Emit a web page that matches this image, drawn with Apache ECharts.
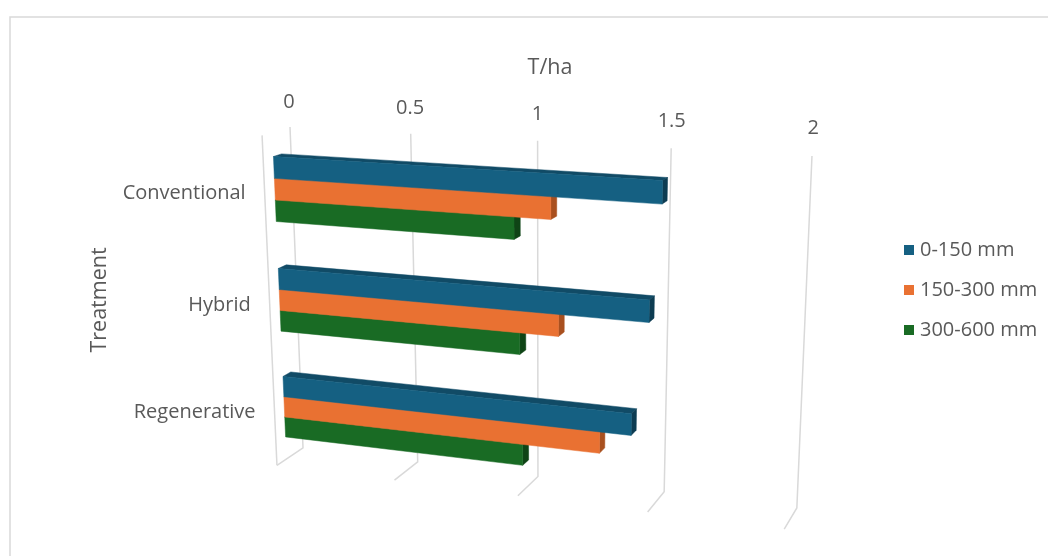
<!DOCTYPE html>
<html>
<head>
<meta charset="utf-8">
<script src="https://cdn.jsdelivr.net/npm/echarts@6/dist/echarts.min.js"></script>
<style>
  html, body { margin: 0; padding: 0; background: #ffffff; }
  #chart { width: 1048px; height: 556px; }
</style>
</head>
<body>
<div id="chart"></div>
<script>
// ---- data ----
const categories = ['Conventional', 'Hybrid', 'Regenerative'];
const seriesNames = ['0-150 mm', '150-300 mm', '300-600 mm'];
const depth0to150 = [1.51, 1.47, 1.41];
const depth150to300 = [1.10, 1.13, 1.29];
const depth300to600 = [0.96, 0.98, 0.99];
const valueTicks = [0, 0.5, 1, 1.5, 2];
const valueTitle = 'T/ha';
const categoryTitle = 'Treatment';

// ---- look ----
const FONT = '"Open Sans", "Noto Sans", sans-serif';
const TEXT_COLOR = '#595959';
const GRID_COLOR = '#d9d9d9';
const FACE_COLORS = [
  { front: '#156082', top: '#114b66', end: '#0d3c52' },
  { front: '#e97132', top: '#c65c24', end: '#a9501f' },
  { front: '#196b24', top: '#13531c', end: '#0f4416' }
];

// The flat grid is the 3D box seen head-on; its pixels are the box's world units.
const GRID = { left: 0, top: 0, width: 526, height: 339 };
const BOX_DEPTH = 58;          // floor depth, back wall at z = 0, front at -BOX_DEPTH
const BAR_Z = [-37, -20];      // front / back of every bar
const BAR_FRACTION = 0.192;    // bar thickness as a share of the category band
const TICK_LIFT = 25;          // value labels sit this far above the back wall

// Perspective camera (yaw around the vertical axis, pitch looking down)
const CAM = { yaw: 19.5, pitch: 16, dist: 1730, cx: 544, cy: 355, tx: -254, ty: -228 };
const DEG = Math.PI / 180;
const cYaw = Math.cos(CAM.yaw * DEG), sYaw = Math.sin(CAM.yaw * DEG);
const cPit = Math.cos(CAM.pitch * DEG), sPit = Math.sin(CAM.pitch * DEG);

function project(X, Y, Z) {
  const x1 = X * cYaw + Z * sYaw;
  const z1 = -X * sYaw + Z * cYaw;
  const y2 = Y * cPit - z1 * sPit;
  const z2 = z1 * cPit + Y * sPit;
  const k = CAM.dist / (CAM.dist + z2);
  return [CAM.cx + (x1 + CAM.tx) * k, CAM.cy + (y2 + CAM.ty) * k];
}

function toWorld(api, value, cat) {
  const p = api.coord([value, cat]);
  return [p[0] - GRID.left, p[1] - GRID.top];
}

// Back-wall gridlines, floor gridlines and value labels
function renderWalls(params, api) {
  const v = api.value(0);
  const X = toWorld(api, v, 0)[0];
  const H = GRID.height;
  const children = [{
    type: 'polyline',
    shape: { points: [project(X, 0, 0), project(X, H, 0), project(X, H, -BOX_DEPTH)] },
    style: { stroke: GRID_COLOR, lineWidth: 1.5, fill: null }
  }];
  if (params.dataIndex === 0) {
    const a = project(X, 0, -BOX_DEPTH), b = project(X, H, -BOX_DEPTH);
    children.push({
      type: 'line',
      shape: { x1: a[0], y1: a[1], x2: b[0], y2: b[1] },
      style: { stroke: GRID_COLOR, lineWidth: 1.5 }
    });
  }
  const lp = project(X, -TICK_LIFT, 0);
  children.push({
    type: 'text',
    style: {
      text: String(v), x: lp[0], y: lp[1], align: 'center', verticalAlign: 'middle',
      font: '20px ' + FONT, fill: TEXT_COLOR
    }
  });
  return { type: 'group', children: children };
}

// Category names beside the front-left edge
function renderCategoryLabels(params, api) {
  const cat = api.value(0);
  const Y = toWorld(api, 0, cat)[1];
  const p = project(0, Y, -BOX_DEPTH);
  return {
    type: 'text',
    style: {
      text: categories[cat], x: p[0] - 19, y: p[1], align: 'right', verticalAlign: 'middle',
      font: '20px ' + FONT, fill: TEXT_COLOR
    }
  };
}

// One 3D bar: top face, right end face, front face
function barRenderer(k) {
  const colors = FACE_COLORS[k];
  return function (params, api) {
    const cat = api.value(0), val = api.value(1);
    const band = api.size([0, 1])[1];
    const h = band * BAR_FRACTION;
    const base = toWorld(api, 0, cat);
    const tip = toWorld(api, val, cat);
    const x0 = base[0], x1 = tip[0];
    const yc = base[1] + (k - 1) * h;
    const y0 = yc - h / 2, y1 = yc + h / 2;
    const zf = BAR_Z[0], zb = BAR_Z[1];
    const poly = function (pts, fill) {
      return { type: 'polygon', shape: { points: pts }, style: { fill: fill, stroke: fill, lineWidth: 0.5 } };
    };
    return {
      type: 'group',
      children: [
        poly([project(x0, y0, zb), project(x1, y0, zb), project(x1, y0, zf), project(x0, y0, zf)], colors.top),
        poly([project(x1, y0, zf), project(x1, y0, zb), project(x1, y1, zb), project(x1, y1, zf)], colors.end),
        poly([project(x0, y0, zf), project(x1, y0, zf), project(x1, y1, zf), project(x0, y1, zf)], colors.front)
      ]
    };
  };
}

const seriesValues = [depth0to150, depth150to300, depth300to600];

const barSeries = seriesValues.map(function (vals, k) {
  return {
    name: seriesNames[k],
    type: 'custom',
    coordinateSystem: 'cartesian2d',
    renderItem: barRenderer(k),
    clip: false,
    z: 4 - k,
    itemStyle: { color: FACE_COLORS[k].front },
    encode: { x: 1, y: 0 },
    data: vals.map(function (v, i) { return [i, v]; })
  };
});

const chart = echarts.init(document.getElementById('chart'));
chart.setOption({
  animation: false,
  backgroundColor: '#ffffff',
  grid: { left: GRID.left, top: GRID.top, width: GRID.width, height: GRID.height, show: false },
  xAxis: { type: 'value', min: 0, max: 2, interval: 0.5, show: false },
  yAxis: { type: 'category', data: categories, inverse: true, show: false },
  legend: {
    data: seriesNames,
    orient: 'vertical',
    left: 904,
    top: 240,
    padding: 0,
    icon: 'rect',
    itemWidth: 10,
    itemHeight: 10,
    itemGap: 20,
    textStyle: { fontFamily: FONT, fontSize: 20, color: TEXT_COLOR, padding: [0, 0, 0, 1] }
  },
  graphic: [
    {
      type: 'rect', silent: true,
      shape: { x: 10, y: 17, width: 1100, height: 600 },
      style: { fill: null, stroke: GRID_COLOR, lineWidth: 1.5 }
    },
    {
      type: 'text', x: 550, y: 68,
      style: { text: valueTitle, align: 'center', verticalAlign: 'middle', font: '21.5px ' + FONT, fill: TEXT_COLOR }
    },
    {
      type: 'text', x: 100, y: 300, rotation: Math.PI / 2,
      style: { text: categoryTitle, align: 'center', verticalAlign: 'middle', font: '21.5px ' + FONT, fill: TEXT_COLOR }
    }
  ],
  series: [
    {
      type: 'custom',
      coordinateSystem: 'cartesian2d',
      renderItem: renderWalls,
      clip: false,
      silent: true,
      z: 1,
      encode: { x: 0 },
      data: valueTicks.map(function (v) { return [v]; })
    },
    {
      type: 'custom',
      coordinateSystem: 'cartesian2d',
      renderItem: renderCategoryLabels,
      clip: false,
      silent: true,
      z: 5,
      encode: { y: 0 },
      data: categories.map(function (c, i) { return [i]; })
    }
  ].concat(barSeries)
});
</script>
</body>
</html>
